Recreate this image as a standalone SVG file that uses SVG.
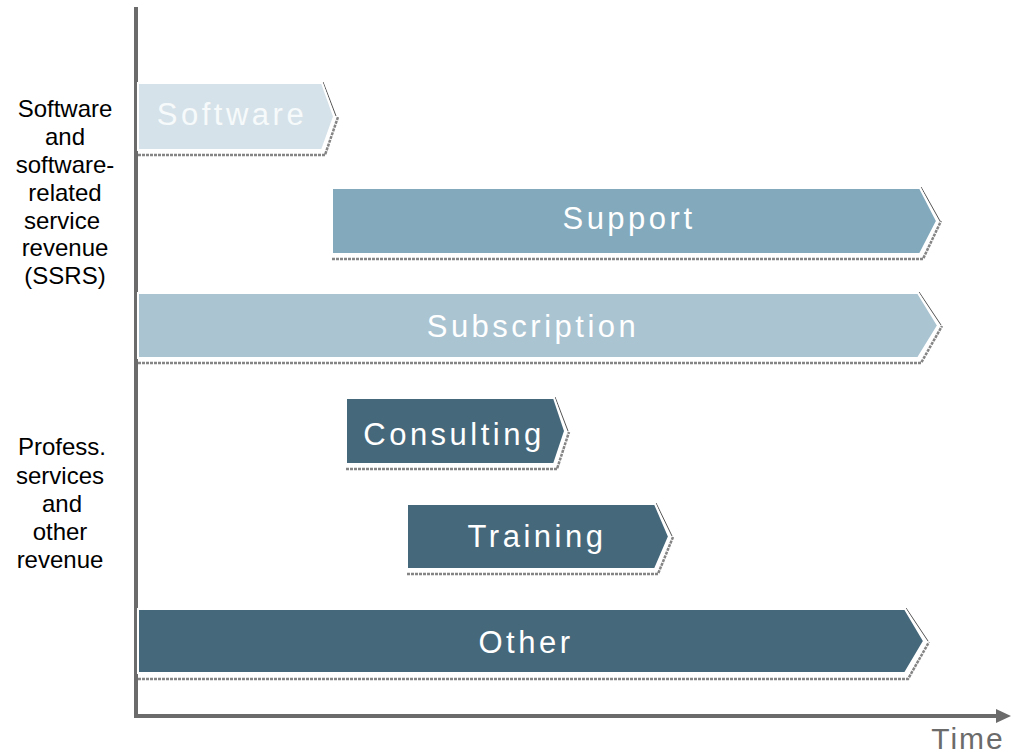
<svg xmlns="http://www.w3.org/2000/svg" width="1012" height="754" viewBox="0 0 1012 754">
<style>
.lbl{font-family:"Liberation Sans",Arial,sans-serif;font-size:24px;fill:#000;text-anchor:middle}
.bt{font-family:"Liberation Sans",Arial,sans-serif;font-size:31px;letter-spacing:3.5px;fill:#fff;text-anchor:middle}
.shadow{fill:none;stroke:#858585;stroke-width:2.5;stroke-dasharray:3 1}
.edge{fill:none;stroke:#555;stroke-width:1}
.bar{stroke:#fff;stroke-width:2}
.axis{stroke:#6b6b6b;stroke-width:4;fill:none}
</style>
<rect width="1012" height="754" fill="#fff"/>
<g id="axes">
<line class="axis" x1="136" y1="7" x2="136" y2="718"/>
<line class="axis" x1="134" y1="716" x2="999" y2="716"/>
<polygon points="996,709 1011,716 996,723" fill="#6b6b6b"/>
<text x="968" y="749" font-family="Liberation Sans, Arial, sans-serif" font-size="30" letter-spacing="2" fill="#6b6b6b" text-anchor="middle">Time</text>
</g>
<g id="label-ssrs">
<text class="lbl" x="65" y="117">Software</text>
<text class="lbl" x="65" y="145">and</text>
<text class="lbl" x="65" y="173">software-</text>
<text class="lbl" x="65" y="201">related</text>
<text class="lbl" x="62" y="229">service</text>
<text class="lbl" x="65" y="256">revenue</text>
<text class="lbl" x="65" y="284">(SSRS)</text>
</g>
<g id="label-prof">
<text class="lbl" x="62" y="455">Profess.</text>
<text class="lbl" x="60" y="484">services</text>
<text class="lbl" x="62" y="512">and</text>
<text class="lbl" x="60" y="540">other</text>
<text class="lbl" x="60" y="568">revenue</text>
</g>
<g id="connectors"></g>
<g id="software">
<path class="shadow" d="M138,155 L325,155 L338,117"/>
<path class="edge" d="M323,82 L336,116"/>
<polygon class="bar" fill="#d6e2e9" points="138,83 322,83 334,116.5 322,150 138,150"/>
<text class="bt" x="232" y="125" style="fill:#f7fafb">Software</text>
</g>
<g id="support">
<path class="shadow" d="M332,259 L923,259 L941,221"/>
<path class="edge" d="M921,187 L940,221"/>
<polygon class="bar" fill="#82a9bc" points="332,188 920,188 937,221 920,254 332,254"/>
<text class="bt" x="629" y="229">Support</text>
</g>
<g id="subscription">
<path class="shadow" d="M138,363 L921,363 L942,326"/>
<path class="edge" d="M919,292 L941,325"/>
<polygon class="bar" fill="#aac4d2" points="138,293 918,293 938,325.5 918,358 138,358"/>
<text class="bt" x="533" y="337">Subscription</text>
</g>
<g id="consulting">
<path class="shadow" d="M346,469 L557,469 L569,432"/>
<path class="edge" d="M555,397 L568,431"/>
<polygon class="bar" fill="#46687b" points="346,398 554,398 565,431 554,464 346,464"/>
<text class="bt" x="454" y="445">Consulting</text>
</g>
<g id="training">
<path class="shadow" d="M407,574 L658,574 L673,537"/>
<path class="edge" d="M656,503 L672,536"/>
<polygon class="bar" fill="#46687b" points="407,504 655,504 669,536.5 655,569 407,569"/>
<text class="bt" x="537" y="547">Training</text>
</g>
<g id="other">
<path class="shadow" d="M138,679 L908,679 L929,642"/>
<path class="edge" d="M906,608 L928,641"/>
<polygon class="bar" fill="#46687b" points="138,609 905,609 924,641 905,673 138,673"/>
<text class="bt" x="526" y="653">Other</text>
</g>
</svg>
